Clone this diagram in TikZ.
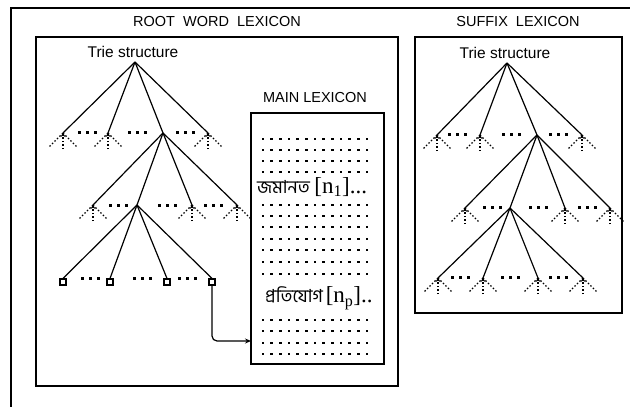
\documentclass[tikz,border=0pt]{standalone}
\usepackage{fontspec}
\setmainfont{Liberation Sans}
\newfontfamily\serifx{Liberation Serif}
\newfontfamily\bnfont[Script=Bengali]{Hind Siliguri}
\usetikzlibrary{arrows.meta,calc}
\tikzset{
  boxline/.style={draw, line width=1.8pt},
  edge/.style={line width=1.2pt},
  fanline/.style={line width=1.2pt, dash pattern=on 1.5pt off 2pt},
  titletext/.style={font=\fontsize{14.5}{17}\selectfont, inner sep=0},
  trietext/.style={font=\fontsize{15.5}{18}\selectfont, inner sep=0},
  leafsq/.style={draw, line width=1.1pt, minimum size=6pt, inner sep=0, fill=white},
}
\newcommand\fanat[1]{%
  \draw[fanline] (#1) -- ($(#1)+(-14,14)$);
  \draw[fanline] (#1) -- ($(#1)+(14,14)$);
  \draw[fanline,-{Stealth[length=4pt,width=5pt]}] ($(#1)+(0,16)$) -- (#1);
}
\newcommand\tdots[2]{%
  \foreach \dx in {-8,0,8} \fill (#1+\dx-1.5, #2-1.5) rectangle ++(3,3);
}
\begin{document}
\begin{tikzpicture}[x=1pt,y=-1pt]
\path[use as bounding box] (0,0) rectangle (630,407);
% outer frame (top and left visible)
\draw[line width=1.8pt] (630,8) -- (11,8) -- (11,407);
% titles
\node[titletext] (t1) at (217,22) {ROOT\ \ WORD\ \ LEXICON};
\node[titletext] (t2) at (518,22) {SUFFIX\ \ LEXICON};
% boxes
\draw[boxline] (36,37) rectangle (398,386);
\draw[boxline] (415,37) rectangle (622,313);
\node[boxline, minimum width=133pt, minimum height=251pt, inner sep=0] (mlbox) at (317.5,238.5) {};
\node[titletext] (t3) at (315,98) {MAIN LEXICON};
% ---------------- root trie ----------------
\node[trietext] (rt) at (133,52) {Trie structure};
\coordinate (ra) at (135,62);
\coordinate (r1a) at (63,133);  \coordinate (r1b) at (108,133);
\coordinate (r1c) at (163,133); \coordinate (r1d) at (208,133);
\coordinate (r2a) at (93,205);  \coordinate (r2b) at (137,205);
\coordinate (r2c) at (192,205); \coordinate (r2d) at (237,205);
\node[leafsq] (r3a) at (63,282) {};
\node[leafsq] (r3b) at (110,282) {};
\node[leafsq] (r3c) at (167,282) {};
\node[leafsq] (r3d) at (212,282) {};
\foreach \c in {r1a,r1b,r1c,r1d} \draw[edge] (ra) -- (\c);
\foreach \c in {r2a,r2b,r2c,r2d} \draw[edge] (r1c) -- (\c);
\foreach \c in {r3a,r3b,r3c,r3d} \draw[edge] (r2b) -- (\c.north);
\foreach \c in {r1a,r1b,r1d,r2a,r2c,r2d} {\fanat{\c}}
\tdots{87}{132}\tdots{137}{132}\tdots{185}{132}
\tdots{118}{205}\tdots{167}{205}\tdots{213}{205}
\tdots{90}{278}\tdots{142}{278}\tdots{187}{278}
\coordinate (arrend) at (251,341);
\draw[edge,-{Stealth[length=6pt,width=5pt]},rounded corners=5pt] (r3d.south) |- (arrend);
% ---------------- main lexicon ----------------
\foreach \yy in {139,150,161,172,205,216,227,239,250,262,274,320,331,343,354}
  \foreach \k in {0,...,12} \fill (263+\k*8.67-1.4, \yy-1.4) rectangle ++(2.8,2.8);
\node[anchor=west, inner sep=0] (w1) at (257,187) {{\bnfont\fontsize{18}{20}\selectfont জমানত}\ \,{\serifx\fontsize{23}{25}\selectfont [n\textsubscript{1}]...}};
\node[anchor=west, inner sep=0] (w2) at (265,298) {{\bnfont\fontsize{18}{20}\selectfont প্রতিযোগ}\ {\serifx\fontsize{23}{25}\selectfont [n\textsubscript{p}]..}};
% ---------------- suffix trie ----------------
\node[trietext] (st) at (505,53) {Trie structure};
\coordinate (sa) at (507,63);
\coordinate (s1a) at (437,135); \coordinate (s1b) at (480,135);
\coordinate (s1c) at (537,135); \coordinate (s1d) at (582,135);
\coordinate (s2a) at (465,208); \coordinate (s2b) at (510,208);
\coordinate (s2c) at (565,208); \coordinate (s2d) at (610,208);
\coordinate (s3a) at (438,278); \coordinate (s3b) at (483,278);
\coordinate (s3c) at (538,278); \coordinate (s3d) at (583,278);
\foreach \c in {s1a,s1b,s1c,s1d} \draw[edge] (sa) -- (\c);
\foreach \c in {s2a,s2b,s2c,s2d} \draw[edge] (s1c) -- (\c);
\foreach \c in {s3a,s3b,s3c,s3d} \draw[edge] (s2b) -- (\c);
\foreach \c in {s1a,s1b,s1d,s2a,s2c,s2d,s3a,s3b,s3c,s3d} {\fanat{\c}}
\tdots{457}{134}\tdots{511}{134}\tdots{558}{134}
\tdots{492}{207}\tdots{538}{207}\tdots{587}{207}
\tdots{460}{277}\tdots{510}{277}\tdots{558}{277}
\end{tikzpicture}
\end{document}
